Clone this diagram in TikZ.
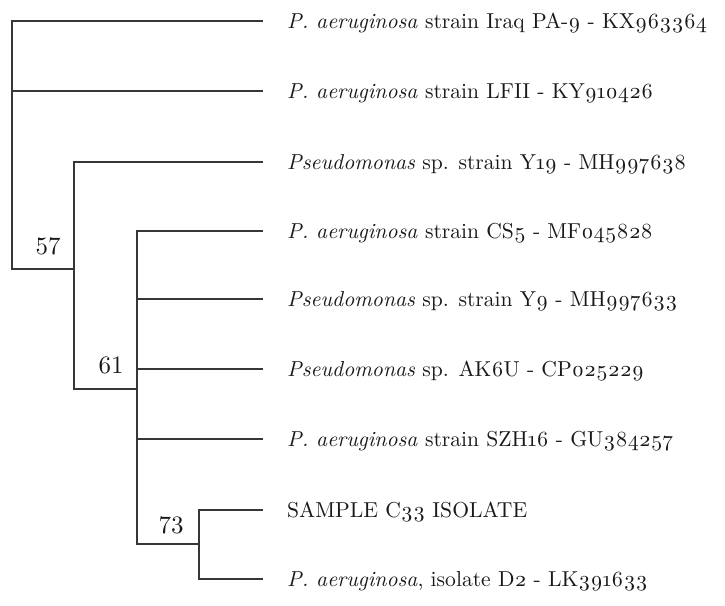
\documentclass[tikz,border=0pt]{standalone}
\usepackage{fontspec}
\setmainfont{lmroman10}[Extension=.otf, UprightFont=*-regular, ItalicFont=*-italic, Numbers=OldStyle]
\newfontfamily\labfont{lmroman10}[Extension=.otf, UprightFont=*-regular, Numbers=Lining]
\definecolor{branch}{RGB}{55,55,55}
\definecolor{txt}{RGB}{25,25,25}
\tikzset{
  branchline/.style={draw=branch, line width=1.5pt, line cap=rect},
  leaf/.style={anchor=base west, inner sep=0pt, text=txt, font=\fontsize{21.6}{26}\selectfont},
  support/.style={inner sep=0pt, text=txt, font=\labfont\fontsize{25}{30}\selectfont}
}
\begin{document}
\begin{tikzpicture}[x=1pt, y=-1pt]
\useasboundingbox (0,0) rectangle (725,605);
% inner nodes
\coordinate (r) at (12,269);
\coordinate (n57) at (74,269);
\coordinate (n61) at (137,389);
\coordinate (n73) at (199,544);
% leaf tips
\coordinate (t1) at (262,21);
\coordinate (t2) at (262,91);
\coordinate (t3) at (262,162);
\coordinate (t4) at (262,231);
\coordinate (t5) at (262,299);
\coordinate (t6) at (262,369);
\coordinate (t7) at (262,439);
\coordinate (t8) at (262,510);
\coordinate (t9) at (262,579);
% branches
\draw[branchline] (r) |- (t1);
\draw[branchline] (r) |- (t2);
\draw[branchline] (r) -- (n57);
\draw[branchline] (n57) |- (t3);
\draw[branchline] (n57) |- (n61);
\draw[branchline] (n61) |- (t4);
\draw[branchline] (n61) |- (t5);
\draw[branchline] (n61) |- (t6);
\draw[branchline] (n61) |- (t7);
\draw[branchline] (n61) |- (n73);
\draw[branchline] (n73) |- (t8);
\draw[branchline] (n73) |- (t9);
% leaf labels
\node[leaf] (l1) at (287,28.5) {\textit{P. aeruginosa} strain Iraq PA-9 - KX963364};
\node[leaf] (l2) at (287,98.5) {\textit{P. aeruginosa} strain LFII - KY910426};
\node[leaf] (l3) at (287,169.5) {\textit{Pseudomonas} sp. strain Y19 - MH997638};
\node[leaf] (l4) at (287,238.5) {\textit{P. aeruginosa} strain CS5 - MF045828};
\node[leaf] (l5) at (287,306.5) {\textit{Pseudomonas} sp. strain Y9 - MH997633};
\node[leaf] (l6) at (287,376.5) {\textit{Pseudomonas} sp. AK6U - CP025229};
\node[leaf] (l7) at (287,446.5) {\textit{P. aeruginosa} strain SZH16 - GU384257};
\node[leaf] (l8) at (287,517.5) {SAMPLE C33 ISOLATE};
\node[leaf] (l9) at (287,586.5) {\textit{P. aeruginosa}, isolate D2 - LK391633};
% support values
\node[support] (s57) at (48,246.5) {57};
\node[support] (s61) at (111,365) {61};
\node[support] (s73) at (171,525) {73};
\end{tikzpicture}
\end{document}
